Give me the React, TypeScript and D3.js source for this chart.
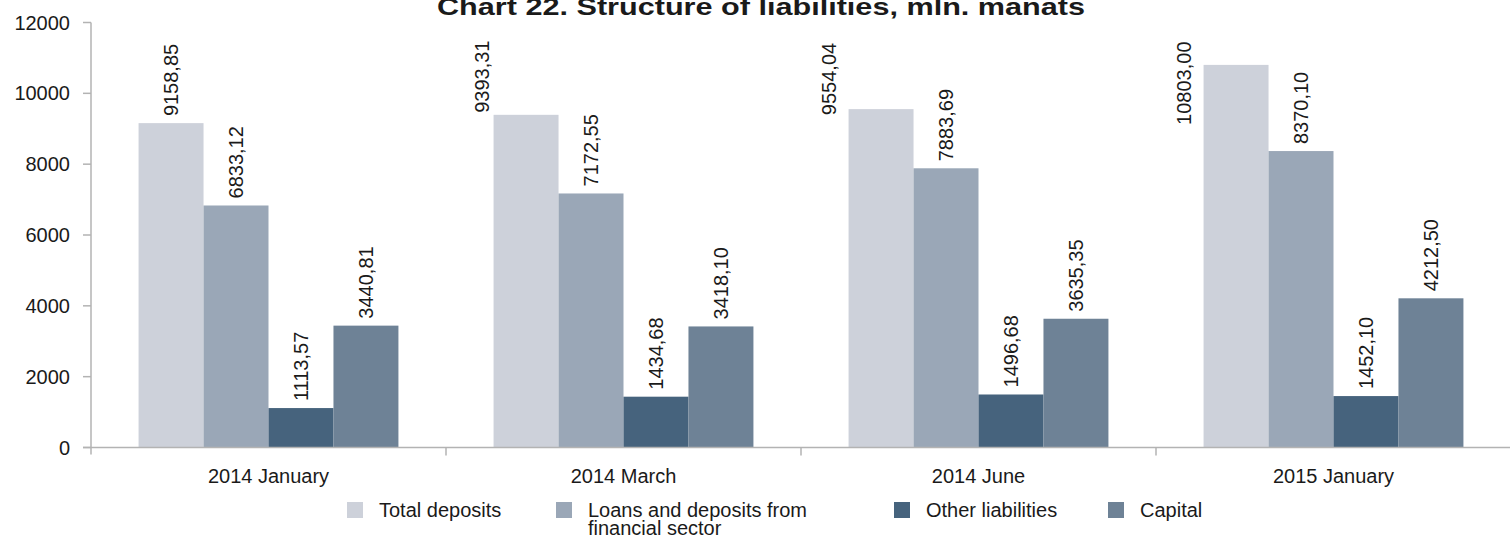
import React, { useEffect, useRef } from 'react';
import * as d3 from 'd3';

const categories = ['2014 January', '2014 March', '2014 June', '2015 January'];
const seriesNames = ['Total deposits', 'Loans and deposits from financial sector', 'Other liabilities', 'Capital'];
const totalDeposits = [9158.85, 9393.31, 9554.04, 10803.0];
const loansDeposits = [6833.12, 7172.55, 7883.69, 8370.1];
const otherLiabilities = [1113.57, 1434.68, 1496.68, 1452.1];
const capital = [3440.81, 3418.1, 3635.35, 4212.5];
const yTicks = [0, 2000, 4000, 6000, 8000, 10000, 12000];

const colors = ['#cdd1da', '#9aa7b7', '#46637d', '#6e8296'];
const FONT = 'Arial, "Liberation Sans", Helvetica, sans-serif';
const TXT = '#1a1a1a';

const App: React.FC = () => {
  const svgRef = useRef<SVGSVGElement>(null);

  useEffect(() => {
    if (!svgRef.current) return;
    const svg = d3.select(svgRef.current);
    svg.selectAll('*').remove();

    const width = 1510;
    const height = 540;
    const margin = { top: 22.5, right: 0, bottom: 92.5, left: 91 };
    const values = [totalDeposits, loansDeposits, otherLiabilities, capital];

    const x0 = d3.scaleBand<string>().domain(categories).range([margin.left, margin.left + 355 * 4]).padding(0);
    const bw = x0.bandwidth();
    const x1 = d3.scaleBand<number>().domain([0, 1, 2, 3]).range([bw * 0.134, bw * 0.866]).padding(0);
    const y = d3.scaleLinear().domain([0, 12000]).range([height - margin.bottom, margin.top]);

    // title (top is cut by the frame in the original)
    svg.append('text')
      .attr('x', 437)
      .attr('y', 15)
      .attr('textLength', 648)
      .attr('lengthAdjust', 'spacingAndGlyphs')
      .style('font-family', FONT)
      .style('font-weight', 'bold')
      .style('font-size', '24px')
      .attr('fill', TXT)
      .text('Chart 22. Structure of liabilities, mln. manats');

    // bars
    const groups = svg.selectAll('.grp')
      .data(categories)
      .enter()
      .append('g')
      .attr('class', 'grp')
      .attr('transform', d => `translate(${x0(d)},0)`);

    // excel moved a few labels aside; offsets from default spot
    const labelShift: Record<string, [number, number]> = {
      '0-1': [-44, 5],
      '0-2': [-52, 13],
      '0-3': [-52, 67],
    };

    values.forEach((vals, si) => {
      groups.append('rect')
        .attr('x', x1(si) as number)
        .attr('y', (_, ci) => y(vals[ci]))
        .attr('width', x1.bandwidth())
        .attr('height', (_, ci) => y(0) - y(vals[ci]))
        .attr('fill', colors[si]);

      groups.append('text')
        .attr('transform', (_, ci) => {
          const s = labelShift[`${si}-${ci}`] || [0, 0];
          const cx = (x1(si) as number) + x1.bandwidth() / 2 + s[0];
          const cy = y(vals[ci]) - 7 + s[1];
          return `translate(${cx},${cy}) rotate(-90)`;
        })
        .attr('dy', '0.35em')
        .style('font-family', FONT)
        .style('font-size', '20px')
        .attr('fill', TXT)
        .text((_, ci) => vals[ci].toFixed(2).replace('.', ','));
    });

    const axisColor = '#b3b3b3';

    // y axis
    svg.append('line')
      .attr('x1', margin.left).attr('x2', margin.left)
      .attr('y1', y(12000)).attr('y2', y(0) + 7)
      .attr('stroke', axisColor).attr('stroke-width', 1.5);
    svg.selectAll('.ytick')
      .data(yTicks)
      .enter()
      .append('line')
      .attr('x1', margin.left - 8).attr('x2', margin.left)
      .attr('y1', d => y(d)).attr('y2', d => y(d))
      .attr('stroke', axisColor).attr('stroke-width', 1.5);
    svg.selectAll('.ylab')
      .data(yTicks)
      .enter()
      .append('text')
      .attr('x', 70)
      .attr('y', d => y(d))
      .attr('dy', '0.35em')
      .attr('text-anchor', 'end')
      .style('font-family', FONT)
      .style('font-size', '20px')
      .attr('fill', TXT)
      .text(d => String(d));

    // x axis
    svg.append('line')
      .attr('x1', margin.left - 8).attr('x2', width)
      .attr('y1', y(0)).attr('y2', y(0))
      .attr('stroke', axisColor).attr('stroke-width', 1.5);
    const bounds = categories.map(c => (x0(c) as number) + bw).slice(0, 3);
    svg.selectAll('.xtick')
      .data(bounds)
      .enter()
      .append('line')
      .attr('x1', d => d).attr('x2', d => d)
      .attr('y1', y(0)).attr('y2', y(0) + 8)
      .attr('stroke', axisColor).attr('stroke-width', 1.5);
    svg.selectAll('.xlab')
      .data(categories)
      .enter()
      .append('text')
      .attr('x', d => (x0(d) as number) + bw / 2)
      .attr('y', 483)
      .attr('text-anchor', 'middle')
      .style('font-family', FONT)
      .style('font-size', '20px')
      .attr('fill', TXT)
      .text(d => d);

    // legend
    const legendX = [347, 556, 894, 1108];
    const legend = svg.selectAll('.leg')
      .data(seriesNames)
      .enter()
      .append('g')
      .attr('transform', (_, i) => `translate(${legendX[i]},502)`);
    legend.append('rect')
      .attr('width', 16).attr('height', 16)
      .attr('fill', (_, i) => colors[i]);
    const lt = legend.append('text')
      .attr('y', 15)
      .style('font-family', FONT)
      .style('font-size', '20px')
      .attr('fill', TXT);
    lt.each(function (d) {
      const t = d3.select(this);
      const lines = d === seriesNames[1] ? ['Loans and deposits from', 'financial sector'] : [d];
      lines.forEach((ln, k) => {
        t.append('tspan').attr('x', 32).attr('dy', k === 0 ? 0 : 17.5).text(ln);
      });
    });
  }, []);

  return (
    <svg
      ref={svgRef}
      width={1510}
      height={540}
      style={{ position: 'absolute', left: 0, top: 0, background: '#fff' }}
    />
  );
};

export default App;
